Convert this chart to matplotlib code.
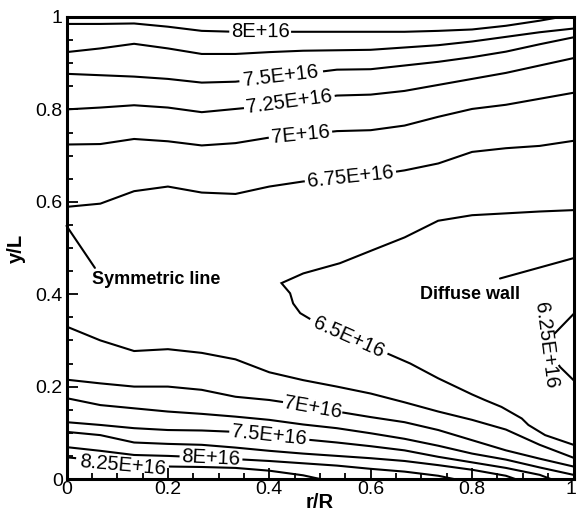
import matplotlib
matplotlib.use('Agg')
import matplotlib.pyplot as plt
import matplotlib.transforms as mtransforms
import numpy as np
from matplotlib.ticker import MultipleLocator, FuncFormatter

plt.rcParams['font.family'] = ['Liberation Sans', 'DejaVu Sans']

# r/R grid nodes of the solution
r_nodes = [0, 0.0667, 0.1333, 0.2, 0.2667, 0.3333, 0.4, 0.4667,
           0.5333, 0.6, 0.6667, 0.7333, 0.8, 0.8667, 0.9333, 1.0]

# iso-lines, y/L read at the r nodes (upper half)
y_800_top = [0.985, 0.985, 0.986, 0.979, 0.970, 0.968, 0.968, 0.968,
             0.968, 0.968, 0.968, 0.970, 0.973, 0.981, 0.992, 1.005]
y_775_top = [0.924, 0.932, 0.942, 0.932, 0.920, 0.920, 0.924, 0.927,
             0.928, 0.929, 0.934, 0.939, 0.947, 0.957, 0.967, 0.975]
y_750_top = [0.877, 0.874, 0.871, 0.866, 0.858, 0.860, 0.868, 0.877,
             0.886, 0.887, 0.895, 0.903, 0.913, 0.925, 0.941, 0.956]
y_725_top = [0.800, 0.804, 0.809, 0.804, 0.794, 0.801, 0.808, 0.818,
             0.830, 0.832, 0.840, 0.853, 0.866, 0.879, 0.895, 0.911]
y_700_top = [0.724, 0.725, 0.736, 0.731, 0.722, 0.727, 0.739, 0.745,
             0.753, 0.755, 0.765, 0.784, 0.801, 0.810, 0.823, 0.836]
y_675_top = [0.589, 0.596, 0.623, 0.633, 0.620, 0.617, 0.633, 0.644,
             0.650, 0.657, 0.668, 0.683, 0.708, 0.716, 0.721, 0.732]

# 6.5E+16 line folds back, so it keeps its own r values
r_650 = [1.0, 0.944, 0.911, 0.898, 0.858, 0.825, 0.8, 0.733, 0.678,
         0.632, 0.6, 0.533, 0.484, 0.461, 0.447, 0.441, 0.424, 0.467,
         0.539, 0.605, 0.667, 0.733, 0.8, 0.867, 0.933, 1.0]
y_650 = [0.074, 0.095, 0.117, 0.131, 0.156, 0.171, 0.183, 0.218, 0.250,
         0.272, 0.287, 0.320, 0.344, 0.359, 0.380, 0.402, 0.424, 0.445,
         0.467, 0.496, 0.523, 0.559, 0.571, 0.575, 0.579, 0.582]

# 6.25E+16 bump at the diffuse wall
r_625 = [1.0, 0.962, 0.955, 0.973, 1.0]
y_625 = [0.357, 0.314, 0.280, 0.243, 0.214]

# lower half
y_675_bot = [0.330, 0.300, 0.277, 0.281, 0.273, 0.259, 0.231, 0.214,
             0.200, 0.185, 0.166, 0.146, 0.128, 0.107, 0.074, 0.046]
y_700_bot = [0.215, 0.207, 0.200, 0.200, 0.193, 0.178, 0.171, 0.160,
             0.146, 0.134, 0.123, 0.106, 0.084, 0.062, 0.044, 0.027]
y_725_bot = [0.175, 0.160, 0.153, 0.146, 0.141, 0.135, 0.128, 0.118,
             0.110, 0.099, 0.087, 0.072, 0.055, 0.042, 0.025, 0.009]
r_750_bot = r_nodes[:15] + [0.955]
y_750_bot = [0.123, 0.117, 0.110, 0.106, 0.105, 0.102, 0.095, 0.086,
             0.079, 0.071, 0.062, 0.048, 0.036, 0.024, 0.009, 0.0]
r_775_bot = r_nodes[:14] + [0.885]
y_775_bot = [0.102, 0.095, 0.079, 0.076, 0.074, 0.068, 0.061, 0.055,
             0.050, 0.045, 0.039, 0.030, 0.020, 0.007, 0.0]
r_800_bot = r_nodes[:12] + [0.764]
y_800_bot = [0.069, 0.061, 0.052, 0.050, 0.047, 0.043, 0.039, 0.034,
             0.029, 0.022, 0.016, 0.007, 0.0]
r_825_bot = r_nodes[:8] + [0.5]
y_825_bot = [0.047, 0.040, 0.033, 0.027, 0.026, 0.024, 0.018, 0.008, 0.0]

# (r, y, label, gap lo, gap hi, gap along y?, label offset)
lines = [
    (r_nodes, y_800_top, '8E+16', 0.319, 0.445, False, (0, 0)),
    (r_nodes, y_775_top, None, 0, 0, False, (0, 0)),
    (r_nodes, y_750_top, '7.5E+16', 0.339, 0.508, False, (0, 0)),
    (r_nodes, y_725_top, '7.25E+16', 0.348, 0.531, False, (0, 0)),
    (r_nodes, y_700_top, '7E+16', 0.397, 0.526, False, (0, 0)),
    (r_nodes, y_675_top, '6.75E+16', 0.468, 0.652, False, (0, 0)),
    (r_650, y_650, '6.5E+16', 0.479, 0.635, False, (0, -0.003)),
    (r_625, y_625, '6.25E+16', 0.245, 0.316, True, (-0.022, 0.01)),
    (r_nodes, y_675_bot, None, 0, 0, False, (0, 0)),
    (r_nodes, y_700_bot, '7E+16', 0.425, 0.546, False, (0, 0)),
    (r_nodes, y_725_bot, None, 0, 0, False, (0, 0)),
    (r_750_bot, y_750_bot, '7.5E+16', 0.319, 0.481, False, (0, 0)),
    (r_775_bot, y_775_bot, None, 0, 0, False, (0, 0)),
    (r_800_bot, y_800_bot, '8E+16', 0.221, 0.349, False, (0, 0)),
    (r_825_bot, y_825_bot, '8.25E+16', 0.017, 0.204, False, (0, -0.007)),
]


def cut_gap(xs, ys, lo, hi, along_y):
    c = ys if along_y else xs
    ox, oy = [xs[0]], [ys[0]]
    ends = []
    state = 0
    for i in range(len(xs) - 1):
        c0, c1 = c[i], c[i + 1]
        if state < 2:
            hits = []
            for b in (lo, hi):
                if (c0 - b) * (c1 - b) < 0:
                    hits.append(((b - c0) / (c1 - c0), b))
            for t, b in sorted(hits):
                px = xs[i] + t * (xs[i + 1] - xs[i])
                py = ys[i] + t * (ys[i + 1] - ys[i])
                ends.append((px, py))
                if state == 0:
                    ox += [px, np.nan]
                    oy += [py, np.nan]
                    state = 1
                elif state == 1:
                    ox.append(px)
                    oy.append(py)
                    state = 2
        if state != 1:
            ox.append(xs[i + 1])
            oy.append(ys[i + 1])
    return ox, oy, ends


fig = plt.figure(figsize=(5.77, 5.17), dpi=100)
ax = fig.add_axes([66.5 / 577, 1 - 479 / 517, 507 / 577, 462 / 517])
ax.set_xlim(0, 1)
ax.set_ylim(0, 1)

for xs, ys, lab, lo, hi, along_y, off in lines:
    if lab is None:
        ax.plot(xs, ys, color='black', lw=1.5, solid_joinstyle='miter')
        continue
    ox, oy, ends = cut_gap(list(xs), list(ys), lo, hi, along_y)
    ax.plot(ox, oy, color='black', lw=1.5, solid_joinstyle='miter')
    p, q = ends[0], ends[1]
    d = ax.transData.transform([q]) - ax.transData.transform([p])
    ang = np.degrees(np.arctan2(d[0][1], d[0][0]))
    if ang > 90:
        ang -= 180
    if ang < -90:
        ang += 180
    ax.text((p[0] + q[0]) / 2 + off[0], (p[1] + q[1]) / 2 + off[1], lab,
            fontsize=14.5, rotation=ang, rotation_mode='anchor',
            ha='center', va='center', zorder=4)

# annotations
ax.annotate('', xy=(0.0, 0.548), xytext=(0.056, 0.457),
            arrowprops=dict(arrowstyle='-', lw=1.5, color='black',
                            shrinkA=0, shrinkB=0))
ax.text(0.05, 0.421, 'Symmetric line', fontsize=13, fontweight='bold',
        ha='left', va='baseline')
ax.annotate('', xy=(1.0, 0.478), xytext=(0.855, 0.434),
            arrowprops=dict(arrowstyle='-', lw=1.5, color='black',
                            shrinkA=0, shrinkB=0))
ax.text(0.697, 0.389, 'Diffuse wall', fontsize=13, fontweight='bold',
        ha='left', va='baseline')

ax.xaxis.set_major_locator(MultipleLocator(0.2))
ax.xaxis.set_minor_locator(MultipleLocator(0.05))
ax.yaxis.set_major_locator(MultipleLocator(0.2))
ax.yaxis.set_minor_locator(MultipleLocator(0.05))
fmt = FuncFormatter(lambda v, pos: '%g' % round(v, 2))
ax.xaxis.set_major_formatter(fmt)
ax.yaxis.set_major_formatter(fmt)
ax.tick_params(which='both', direction='in', top=False, right=False,
               width=1.3, labelsize=14)
ax.tick_params(which='major', length=8)
ax.tick_params(which='minor', length=4.5)
ax.tick_params(axis='x', pad=1.5)
ax.tick_params(axis='y', pad=2.7)
for s in ax.spines.values():
    s.set_linewidth(2.2)
    s.set_zorder(5)
ax.xaxis.set_zorder(5)
ax.yaxis.set_zorder(5)

ax.set_xlabel('r/R', fontsize=14.5, fontweight='bold')
ax.set_ylabel('y/L', fontsize=14.5, fontweight='bold')
ax.xaxis.set_label_coords(0.5, -0.030)
ax.yaxis.set_label_coords(-0.080, 0.5)

# keep the last r/R tick label inside the canvas
fig.canvas.draw()
for tick in ax.xaxis.get_major_ticks():
    if abs(tick.get_loc() - 1.0) < 1e-6:
        lab = tick.label1
        lab.set_transform(lab.get_transform() +
                          mtransforms.ScaledTranslation(-3 / 100, 0,
                                                        fig.dpi_scale_trans))

fig.savefig('out.png', dpi=100)
